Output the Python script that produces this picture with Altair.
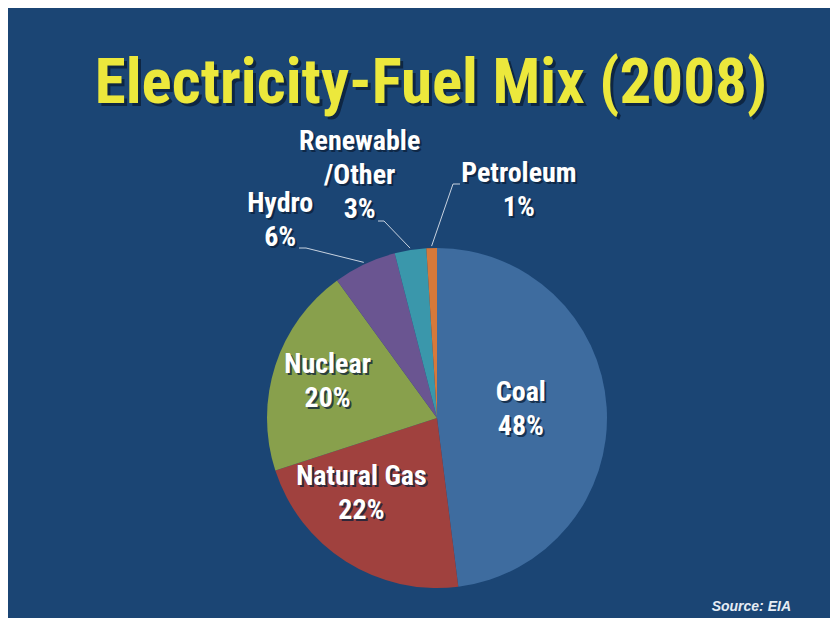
import math
import altair as alt
import pandas as pd

# ---------------- data ----------------
FUELS = ["Coal", "Natural Gas", "Nuclear", "Hydro", "Renewable/Other", "Petroleum"]
SHARES = [48, 22, 20, 6, 3, 1]
LABELS = ["Coal\n48%", "Natural Gas\n22%", "Nuclear\n20%", "Hydro\n6%",
          "Renewable\n/Other\n3%", "Petroleum\n1%"]
COLORS = ["#3e6c9f", "#a0413e", "#88a04c", "#6a5591", "#3a97ab", "#d6793a"]
TITLE = "Electricity-Fuel Mix (2008)"
SOURCE = "Source: EIA"

# ---------------- layout ----------------
W, H = 822, 610
CX, CY, R = 429, 410, 170
BG = "#1b4574"
FONT = "Roboto Condensed"
LH = 34
# label placement: radius from centre at slice mid-angle, plus nudge
LABEL_LAYOUT = {
    "Coal": (84, 0, -3),
    "Natural Gas": (100, -22, -8),
    "Nuclear": (115, 0, 0),
    "Hydro": (218, -64, 0),
    "Renewable/Other": (245, -39, 0),
    "Petroleum": (227, 89, 0),
}
# leader lines: label-end points relative to the pie centre
LEADERS = {
    "Hydro": [(-138, -170), (-131, -170)],
    "Renewable/Other": [(-59, -197), (-53, -197)],
    "Petroleum": [(23, -234), (16, -234)],
}

df = pd.DataFrame({"fuel": FUELS, "value": SHARES, "label": LABELS,
                   "idx": list(range(len(FUELS)))})

theta_scale = alt.Scale(domain=[0, 100], range=[0, 2 * math.pi])
color_scale = alt.Scale(domain=FUELS, range=COLORS)

base = alt.Chart(df)

pie = base.mark_arc(outerRadius=R).encode(
    theta=alt.Theta("value:Q", scale=theta_scale),
    color=alt.Color("fuel:N", scale=color_scale, legend=None),
    order=alt.Order("idx:Q"),
    x=alt.value(CX),
    y=alt.value(CY),
)

mid_base = base.transform_window(
    cum="sum(value)", sort=[alt.SortField("idx")]
).transform_calculate(mid="datum.cum - datum.value / 2")

layers = [pie]

# leader lines
cum = 0
rows = []
for f, v in zip(FUELS, SHARES):
    mid = cum + v / 2
    cum += v
    if f in LEADERS:
        a = 2 * math.pi * mid / 100
        pts = LEADERS[f] + [(172 * math.sin(a), -172 * math.cos(a))]
        for k, (ox, oy) in enumerate(pts):
            rows.append({"fuel": f, "k": k, "px": CX + ox, "py": CY + oy})
lead_df = pd.DataFrame(rows)
leaders = alt.Chart(lead_df).mark_line(color="#c9d3e0", strokeWidth=1).encode(
    x=alt.X("px:Q", scale=None, axis=None),
    y=alt.Y("py:Q", scale=None, axis=None),
    detail="fuel:N",
    order="k:Q",
)
layers.append(leaders)

for f, lab in zip(FUELS, LABELS):
    r, dx, dy = LABEL_LAYOUT[f]
    nlines = lab.count("\n") + 1
    dy = dy - LH * (nlines - 1) / 2
    for col, ox, oy, op in [("#0b1f38", 2, 2, 0.75), ("white", 0, 0, 1)]:
        layers.append(
            mid_base.transform_filter(alt.datum.fuel == f).mark_text(
                radius=r, dx=dx + ox, dy=dy + oy, font=FONT, fontWeight="bold",
                fontSize=28, lineBreak="\n", lineHeight=LH, color=col,
                opacity=op, align="center", baseline="middle",
            ).encode(
                theta=alt.Theta("mid:Q", scale=theta_scale),
                text="label:N",
                x=alt.value(CX),
                y=alt.value(CY),
            )
        )

tdf = pd.DataFrame({"t": [TITLE]})
for col, ox, oy, op in [("#0b1f38", 3, 3, 0.8), ("#ece83c", 0, 0, 1)]:
    layers.append(
        alt.Chart(tdf).mark_text(
            font=FONT, fontWeight="bold", fontSize=63, color=col, opacity=op,
            align="center", baseline="alphabetic",
        ).encode(text="t:N", x=alt.value(423 + ox), y=alt.value(95 + oy))
    )

sdf = pd.DataFrame({"t": [SOURCE]})
layers.append(
    alt.Chart(sdf).mark_text(
        font="Liberation Sans", fontWeight="bold", fontStyle="italic",
        fontSize=14, color="#e6ecf4", align="right", baseline="alphabetic",
    ).encode(text="t:N", x=alt.value(783), y=alt.value(603))
)

chart = alt.layer(*layers).properties(
    width=W, height=H, background=BG, padding=0,
    autosize=alt.AutoSizeParams(type="none"),
).configure_view(strokeWidth=0)

chart.save("out.html", embed_options={"renderer": "svg", "actions": False})
